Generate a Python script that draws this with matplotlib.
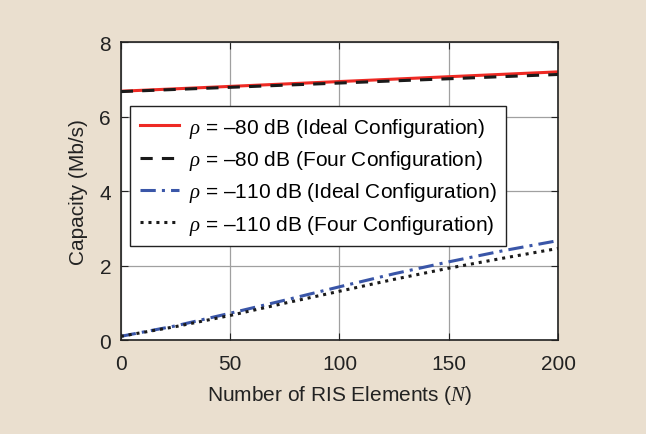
import numpy as np
import matplotlib
matplotlib.use("Agg")
import matplotlib.pyplot as plt

plt.rcParams['font.family'] = ['Liberation Sans', 'DejaVu Sans']
plt.rcParams['mathtext.fontset'] = 'custom'
plt.rcParams['mathtext.it'] = 'Liberation Serif:italic'
plt.rcParams['mathtext.rm'] = 'Liberation Sans'

# values
N = [0, 25, 50, 75, 100, 125, 150, 175, 200]
ideal_80 = [6.68, 6.745, 6.81, 6.875, 6.94, 7.005, 7.07, 7.135, 7.20]
four_80 = [6.67, 6.728, 6.785, 6.843, 6.90, 6.958, 7.015, 7.073, 7.13]
ideal_110 = [0.10, 0.38, 0.72, 1.07, 1.43, 1.78, 2.10, 2.40, 2.67]
four_110 = [0.10, 0.36, 0.66, 0.99, 1.31, 1.63, 1.93, 2.20, 2.46]

bg = '#eadfcf'
fig = plt.figure(figsize=(6.46, 4.35), dpi=100, facecolor=bg)
ax = fig.add_axes([0.187, 0.216, 0.677, 0.685])

ax.plot(N, ideal_80, color='#ee2a24', lw=2.2, label=r'$\rho$ = –80 dB (Ideal Configuration)')
ax.plot(N, four_80, color='#1a1a1a', lw=2.2, ls=(0, (4, 3)), label=r'$\rho$ = –80 dB (Four Configuration)')
ax.plot(N, ideal_110, color='#3a56a8', lw=2.2, ls=(0, (5, 2, 1, 2)), label=r'$\rho$ = –110 dB (Ideal Configuration)')
ax.plot(N, four_110, color='#1a1a1a', lw=2.2, ls=(0, (1, 1.6)), label=r'$\rho$ = –110 dB (Four Configuration)')

ax.set_xlim(0, 200)
ax.set_ylim(0, 8)
ax.set_xticks([0, 50, 100, 150, 200])
ax.set_yticks([0, 2, 4, 6, 8])
ax.grid(True, color='#a0a0a0', lw=0.9)
ax.tick_params(direction='in', top=True, right=True, labelsize=15, length=5,
               pad=7, colors='#222222')
ax.tick_params(axis='x', pad=10)
for s in ax.spines.values():
    s.set_color('#222222')
    s.set_linewidth(1.2)

ax.set_xlabel('Number of RIS Elements ($N$)', fontsize=15, color='#222222', labelpad=7)
ax.set_ylabel('Capacity (Mb/s)', fontsize=15, color='#222222', labelpad=8)

leg = ax.legend(loc='upper left', bbox_to_anchor=(0.022, 0.785), fontsize=15,
                fancybox=False, framealpha=1, edgecolor='#222222',
                handlelength=1.9, handletextpad=0.45, labelspacing=0.4,
                borderpad=0.45, borderaxespad=0)
leg.get_frame().set_linewidth(1.0)

fig.savefig('out.png', dpi=100, facecolor=bg)
